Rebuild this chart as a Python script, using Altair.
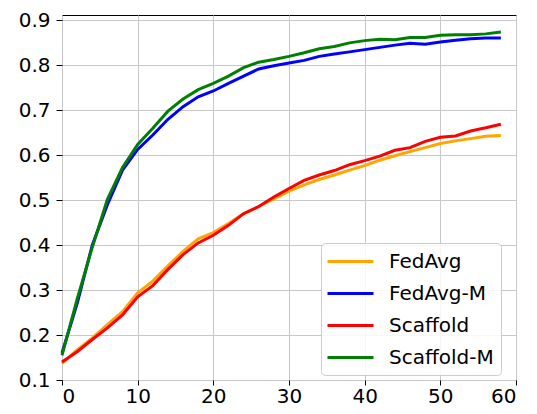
import altair as alt
import pandas as pd

rounds = [0, 2, 4, 6, 8, 10, 12, 14, 16, 18, 20, 22, 24, 26, 28,
          30, 32, 34, 36, 38, 40, 42, 44, 46, 48, 50, 52, 54, 56, 58]

fedavg = [0.137, 0.167, 0.193, 0.223, 0.252, 0.294, 0.320, 0.354, 0.386, 0.414,
          0.428, 0.448, 0.470, 0.486, 0.503, 0.520, 0.534, 0.546, 0.556, 0.567,
          0.577, 0.589, 0.599, 0.608, 0.617, 0.626, 0.632, 0.637, 0.642, 0.644]
fedavg_m = [0.160, 0.270, 0.400, 0.490, 0.567, 0.613, 0.645, 0.680, 0.708, 0.730,
            0.743, 0.760, 0.776, 0.792, 0.799, 0.805, 0.811, 0.820, 0.825, 0.830,
            0.835, 0.840, 0.845, 0.849, 0.847, 0.852, 0.856, 0.859, 0.861, 0.861]
scaffold = [0.140, 0.163, 0.190, 0.216, 0.245, 0.285, 0.310, 0.346, 0.379, 0.405,
            0.422, 0.444, 0.470, 0.486, 0.507, 0.526, 0.544, 0.556, 0.566, 0.579,
            0.588, 0.598, 0.611, 0.617, 0.631, 0.640, 0.643, 0.654, 0.661, 0.669]
scaffold_m = [0.155, 0.280, 0.395, 0.502, 0.573, 0.624, 0.660, 0.698, 0.725, 0.746,
              0.760, 0.776, 0.795, 0.807, 0.813, 0.820, 0.828, 0.837, 0.842, 0.850,
              0.855, 0.858, 0.857, 0.862, 0.862, 0.867, 0.868, 0.868, 0.870, 0.874]

series = ["FedAvg", "FedAvg-M", "Scaffold", "Scaffold-M"]
colors = ["orange", "blue", "red", "green"]

x_ticks = [0, 10, 20, 30, 40, 50, 60]
y_ticks = [0.1, 0.2, 0.3, 0.4, 0.5, 0.6, 0.7, 0.8, 0.9]

rows = []
for name, vals in zip(series, [fedavg, fedavg_m, scaffold, scaffold_m]):
    for r, v in zip(rounds, vals):
        rows.append({"round": r, "acc": v, "method": name})
df = pd.DataFrame(rows)

axis_common = dict(
    title=None, domain=False, labelFontSize=20, labelColor="black",
    tickColor="black", tickWidth=1,
    gridColor="#c8c8c8", gridWidth=1,
)

chart = alt.Chart(df).mark_line(strokeWidth=3).encode(
    x=alt.X("round:Q",
            scale=alt.Scale(domain=[0, 60], nice=False, zero=False),
            axis=alt.Axis(values=x_ticks, format="d", tickSize=5, labelPadding=1,
                          **axis_common)),
    y=alt.Y("acc:Q",
            scale=alt.Scale(domain=[0.1, 0.912], nice=False, zero=False),
            axis=alt.Axis(values=y_ticks, format=".1f", tickSize=6, labelPadding=6,
                          **axis_common)),
    color=alt.Color("method:N",
                    scale=alt.Scale(domain=series, range=colors),
                    legend=alt.Legend(
                        title=None, orient="none", legendX=259, legendY=228,
                        symbolType="M-1.2,0H3.4", symbolSize=400, symbolStrokeWidth=3,
                        labelFontSize=20, labelColor="black", labelOffset=38,
                        rowPadding=10, padding=7, cornerRadius=4,
                        strokeColor="#cccccc", fillColor="rgba(255,255,255,0.85)")),
).properties(
    width=454, height=365,
    autosize=alt.AutoSizeParams(type="none"),
    padding={"left": 54, "top": 7, "right": 13, "bottom": 26},
).configure(
    font="DejaVu Sans",
).configure_view(
    stroke="black", strokeWidth=1,
)

chart.save("out.html", embed_options={"renderer": "svg", "actions": False})
